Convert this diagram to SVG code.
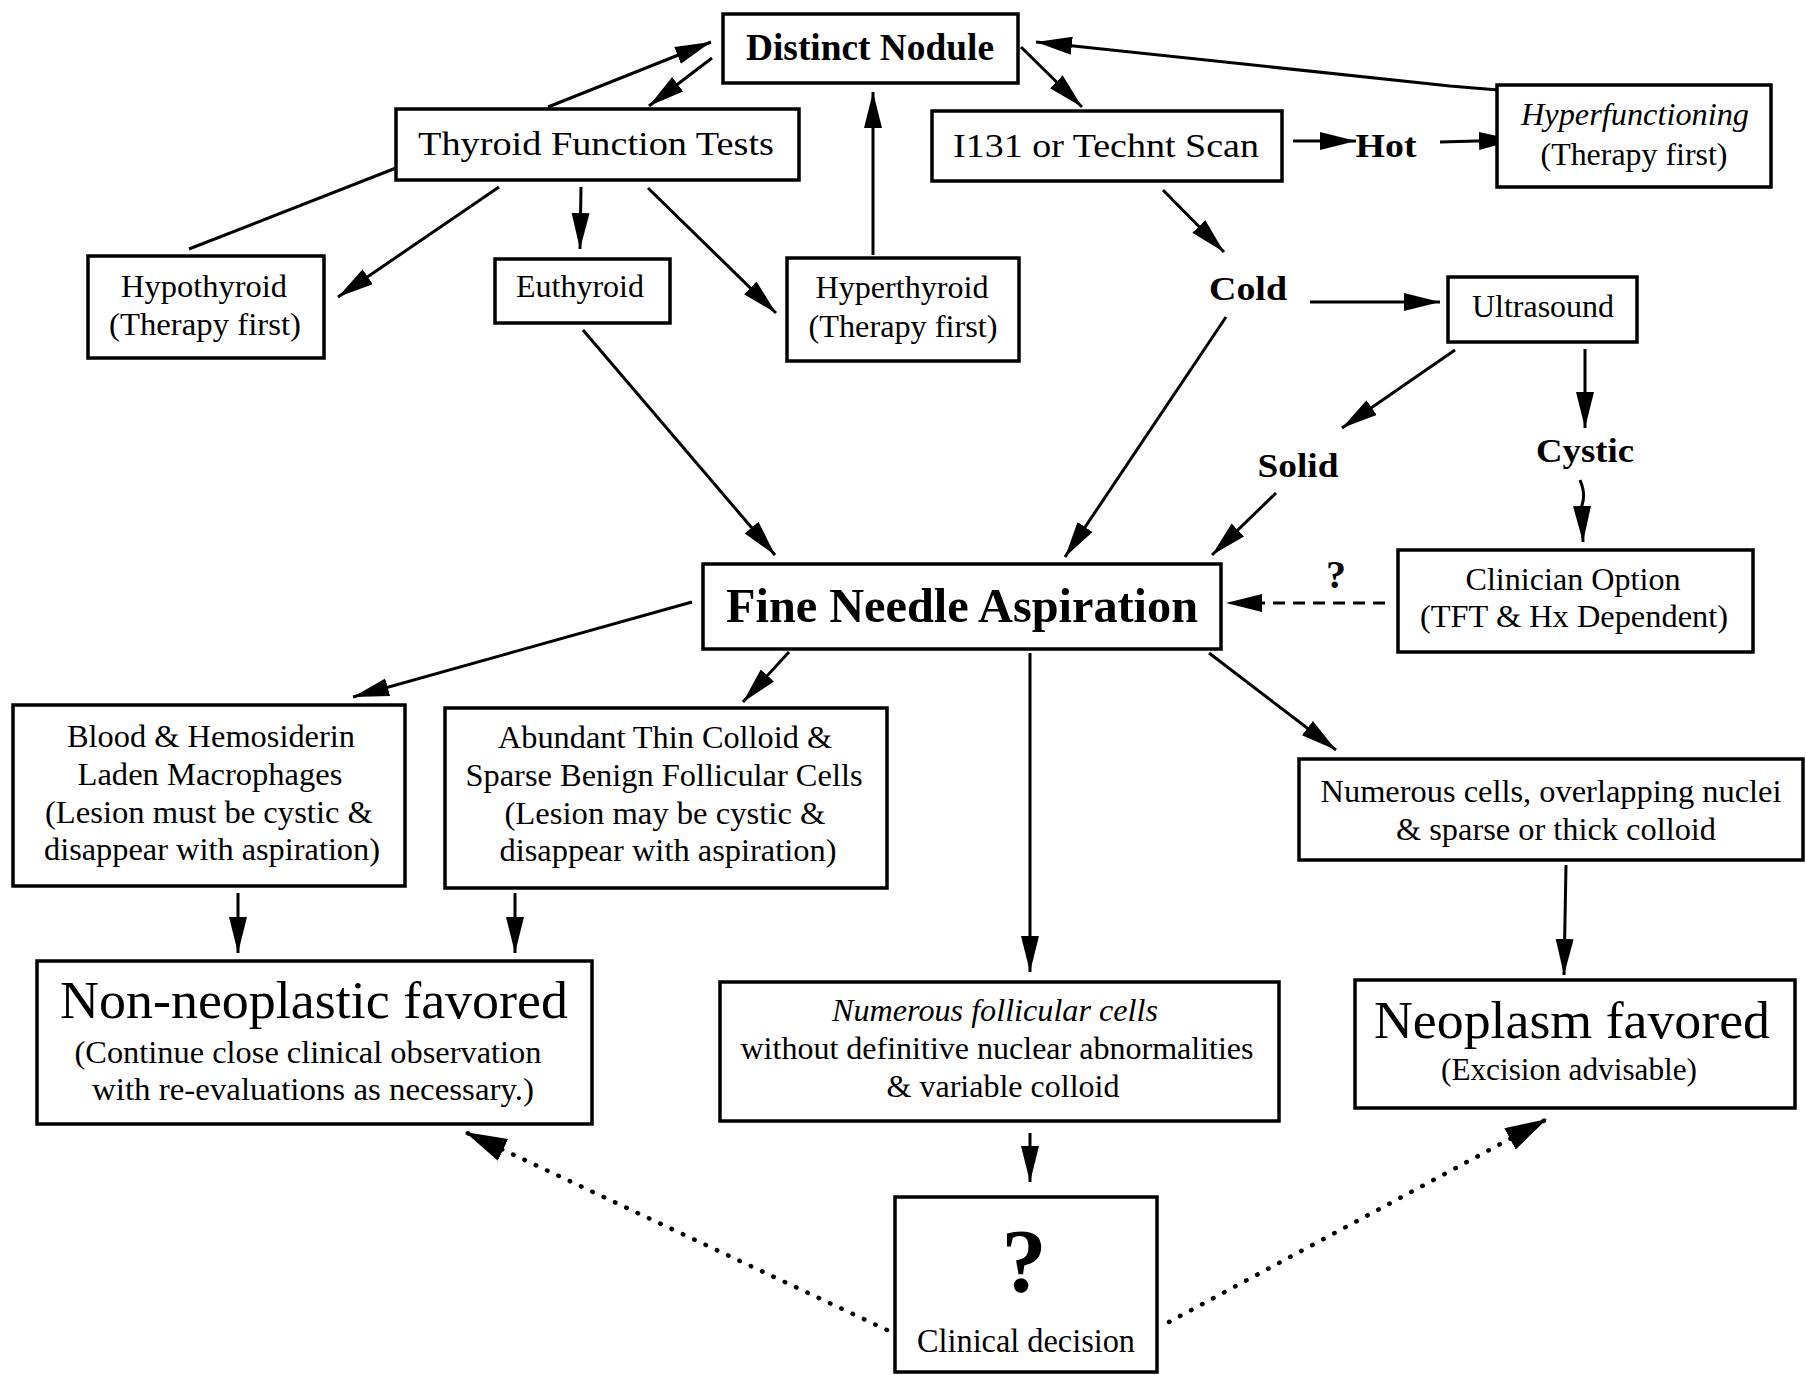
<svg xmlns="http://www.w3.org/2000/svg" width="1806" height="1375" viewBox="0 0 1806 1375">
<style>
.box{fill:#fff;stroke:#000;stroke-width:3.5}
text{font-family:"Liberation Serif","Times New Roman",serif;fill:#000;text-anchor:middle}
.t{font-size:32px}
.m{font-size:34px}
.b{font-size:34px;font-weight:bold}
.it{font-style:italic}
.big{font-size:52px}
.c{fill:none;stroke:#000;stroke-width:3}
.dash{stroke-dasharray:12 8}
.dot{stroke-dasharray:0.5 12;stroke-linecap:round;stroke-width:4.5}
</style>
<defs>
<marker id="ah" markerUnits="userSpaceOnUse" markerWidth="38" markerHeight="20" refX="36" refY="9" orient="auto"><path d="M0,0 L36,9 L0,18 z" fill="#000"/></marker>
<marker id="ahb" markerUnits="userSpaceOnUse" markerWidth="44" markerHeight="26" refX="42" refY="12" orient="auto"><path d="M0,0 L42,12 L0,24 z" fill="#000"/></marker>
</defs>
<rect width="1806" height="1375" fill="#fff"/>
<g id="connectors">
<line class="c" x1="548" y1="107" x2="711" y2="42" marker-end="url(#ah)"/>
<line class="c" x1="712" y1="58" x2="649" y2="106" marker-end="url(#ah)"/>
<line class="c" x1="396" y1="168" x2="189" y2="249"/>
<line class="c" x1="499" y1="187" x2="338" y2="297" marker-end="url(#ah)"/>
<line class="c" x1="581" y1="187" x2="580" y2="249" marker-end="url(#ah)"/>
<line class="c" x1="648" y1="188" x2="776" y2="313" marker-end="url(#ah)"/>
<line class="c" x1="873" y1="255" x2="873" y2="92" marker-end="url(#ah)"/>
<line class="c" x1="1021" y1="47" x2="1082" y2="107" marker-end="url(#ah)"/>
<polyline class="c" points="1498,90 1450,86 1036,42" marker-end="url(#ah)"/>
<line class="c" x1="1293" y1="141" x2="1356" y2="141" marker-end="url(#ah)"/>
<line class="c" x1="1440" y1="142" x2="1515" y2="140" marker-end="url(#ah)"/>
<line class="c" x1="1163" y1="190" x2="1224" y2="252" marker-end="url(#ah)"/>
<line class="c" x1="1310" y1="302" x2="1440" y2="302" marker-end="url(#ah)"/>
<line class="c" x1="1226" y1="317" x2="1065" y2="557" marker-end="url(#ah)"/>
<line class="c" x1="583" y1="330" x2="775" y2="555" marker-end="url(#ah)"/>
<line class="c" x1="1455" y1="350" x2="1342" y2="428" marker-end="url(#ah)"/>
<line class="c" x1="1585" y1="349" x2="1585" y2="428" marker-end="url(#ah)"/>
<line class="c" x1="1276" y1="493" x2="1212" y2="555" marker-end="url(#ah)"/>
<path class="c" d="M1580,480 Q1586,494 1582,505 L1583,542" marker-end="url(#ah)"/>
<line class="c dash" x1="1385" y1="603" x2="1226" y2="603" marker-end="url(#ah)"/>
<line class="c" x1="692" y1="602" x2="353" y2="697" marker-end="url(#ah)"/>
<line class="c" x1="789" y1="652" x2="743" y2="702" marker-end="url(#ah)"/>
<line class="c" x1="1030" y1="653" x2="1030" y2="972" marker-end="url(#ah)"/>
<line class="c" x1="1209" y1="653" x2="1336" y2="750" marker-end="url(#ah)"/>
<line class="c" x1="238" y1="893" x2="238" y2="953" marker-end="url(#ah)"/>
<line class="c" x1="515" y1="893" x2="515" y2="953" marker-end="url(#ah)"/>
<line class="c" x1="1566" y1="865" x2="1564" y2="975" marker-end="url(#ah)"/>
<line class="c" x1="1030" y1="1133" x2="1030" y2="1182" marker-end="url(#ah)"/>
<line class="c dot" x1="887" y1="1330" x2="465" y2="1132" marker-end="url(#ahb)"/>
<line class="c dot" x1="1169" y1="1322" x2="1547" y2="1119" marker-end="url(#ahb)"/>
</g>
<g id="distinct-nodule"><rect class="box" x="723" y="14" width="295" height="69"/><text class="b" x="870" y="60" textLength="248" lengthAdjust="spacingAndGlyphs" style="font-size:38px">Distinct Nodule</text></g>
<g id="tft"><rect class="box" x="396" y="109" width="403" height="71"/><text class="m" x="596" y="155" textLength="356" lengthAdjust="spacingAndGlyphs">Thyroid Function Tests</text></g>
<g id="scan"><rect class="box" x="932" y="111" width="350" height="70"/><text class="m" x="1106" y="157" textLength="306" lengthAdjust="spacingAndGlyphs">I131 or Technt Scan</text></g>
<g id="hot"><text class="b" x="1386" y="157" textLength="61" lengthAdjust="spacingAndGlyphs">Hot</text></g>
<g id="hyperfunctioning"><rect class="box" x="1497" y="85" width="274" height="102"/><text class="t it" x="1635" y="125" textLength="228" lengthAdjust="spacingAndGlyphs">Hyperfunctioning</text><text class="t" x="1634" y="165" textLength="187" lengthAdjust="spacingAndGlyphs">(Therapy first)</text></g>
<g id="hypothyroid"><rect class="box" x="88" y="256" width="236" height="102"/><text class="t" x="204" y="297" textLength="166" lengthAdjust="spacingAndGlyphs">Hypothyroid</text><text class="t" x="205" y="335" textLength="192" lengthAdjust="spacingAndGlyphs">(Therapy first)</text></g>
<g id="euthyroid"><rect class="box" x="495" y="259" width="175" height="64"/><text class="t" x="580" y="297" textLength="128" lengthAdjust="spacingAndGlyphs">Euthyroid</text></g>
<g id="hyperthyroid"><rect class="box" x="787" y="258" width="232" height="103"/><text class="t" x="902" y="298" textLength="173" lengthAdjust="spacingAndGlyphs">Hyperthyroid</text><text class="t" x="903" y="337" textLength="189" lengthAdjust="spacingAndGlyphs">(Therapy first)</text></g>
<g id="cold"><text class="b" x="1248" y="300" textLength="78" lengthAdjust="spacingAndGlyphs">Cold</text></g>
<g id="ultrasound"><rect class="box" x="1448" y="277" width="189" height="65"/><text class="t" x="1543" y="317" textLength="142" lengthAdjust="spacingAndGlyphs">Ultrasound</text></g>
<g id="solid"><text class="b" x="1298" y="477" textLength="81" lengthAdjust="spacingAndGlyphs">Solid</text></g>
<g id="cystic"><text class="b" x="1585" y="462" textLength="98" lengthAdjust="spacingAndGlyphs">Cystic</text></g>
<g id="fna"><rect class="box" x="703" y="564" width="518" height="85"/><text x="962" y="622" style="font-size:48px;font-weight:bold" textLength="472" lengthAdjust="spacingAndGlyphs">Fine Needle Aspiration</text></g>
<g id="q-option"><text x="1336" y="588" style="font-size:40px;font-weight:bold">?</text></g>
<g id="clinician"><rect class="box" x="1398" y="550" width="355" height="102"/><text class="t" x="1573" y="590" textLength="215" lengthAdjust="spacingAndGlyphs">Clinician Option</text><text class="t" x="1574" y="627" textLength="308" lengthAdjust="spacingAndGlyphs">(TFT &amp; Hx Dependent)</text></g>
<g id="blood"><rect class="box" x="13" y="705" width="392" height="181"/><text class="t" x="211" y="747" textLength="288" lengthAdjust="spacingAndGlyphs">Blood &amp; Hemosiderin</text><text class="t" x="210" y="785" textLength="265" lengthAdjust="spacingAndGlyphs">Laden Macrophages</text><text class="t" x="209" y="823" textLength="328" lengthAdjust="spacingAndGlyphs">(Lesion must be cystic &amp;</text><text class="t" x="212" y="860" textLength="336" lengthAdjust="spacingAndGlyphs">disappear with aspiration)</text></g>
<g id="abundant"><rect class="box" x="445" y="708" width="442" height="180"/><text class="t" x="665" y="748" textLength="334" lengthAdjust="spacingAndGlyphs">Abundant Thin Colloid &amp;</text><text class="t" x="664" y="786" textLength="397" lengthAdjust="spacingAndGlyphs">Sparse Benign Follicular Cells</text><text class="t" x="665" y="824" textLength="321" lengthAdjust="spacingAndGlyphs">(Lesion may be cystic &amp;</text><text class="t" x="668" y="861" textLength="337" lengthAdjust="spacingAndGlyphs">disappear with aspiration)</text></g>
<g id="numerous-cells"><rect class="box" x="1299" y="759" width="504" height="101"/><text class="t" x="1551" y="802" textLength="461" lengthAdjust="spacingAndGlyphs">Numerous cells, overlapping nuclei</text><text class="t" x="1556" y="840" textLength="320" lengthAdjust="spacingAndGlyphs">&amp; sparse or thick colloid</text></g>
<g id="non-neoplastic"><rect class="box" x="37" y="961" width="555" height="163"/><text class="big" x="314" y="1018" textLength="508" lengthAdjust="spacingAndGlyphs">Non-neoplastic favored</text><text class="t" x="308" y="1063" textLength="467" lengthAdjust="spacingAndGlyphs">(Continue close clinical observation</text><text class="t" x="313" y="1100" textLength="442" lengthAdjust="spacingAndGlyphs">with re-evaluations as necessary.)</text></g>
<g id="numerous-follicular"><rect class="box" x="720" y="982" width="559" height="139"/><text class="t it" x="995" y="1021" textLength="326" lengthAdjust="spacingAndGlyphs">Numerous follicular cells</text><text class="t" x="997" y="1059" textLength="513" lengthAdjust="spacingAndGlyphs">without definitive nuclear abnormalities</text><text class="t" x="1003" y="1097" textLength="233" lengthAdjust="spacingAndGlyphs">&amp; variable colloid</text></g>
<g id="neoplasm"><rect class="box" x="1355" y="980" width="440" height="128"/><text class="big" x="1572" y="1038" textLength="396" lengthAdjust="spacingAndGlyphs">Neoplasm favored</text><text class="t" x="1569" y="1080" textLength="256" lengthAdjust="spacingAndGlyphs">(Excision advisable)</text></g>
<g id="clinical-decision"><rect class="box" x="895" y="1197" width="262" height="175"/><text x="1024" y="1292" style="font-size:90px;font-weight:bold">?</text><text class="m" x="1026" y="1352" textLength="218" lengthAdjust="spacingAndGlyphs">Clinical decision</text></g>
</svg>
